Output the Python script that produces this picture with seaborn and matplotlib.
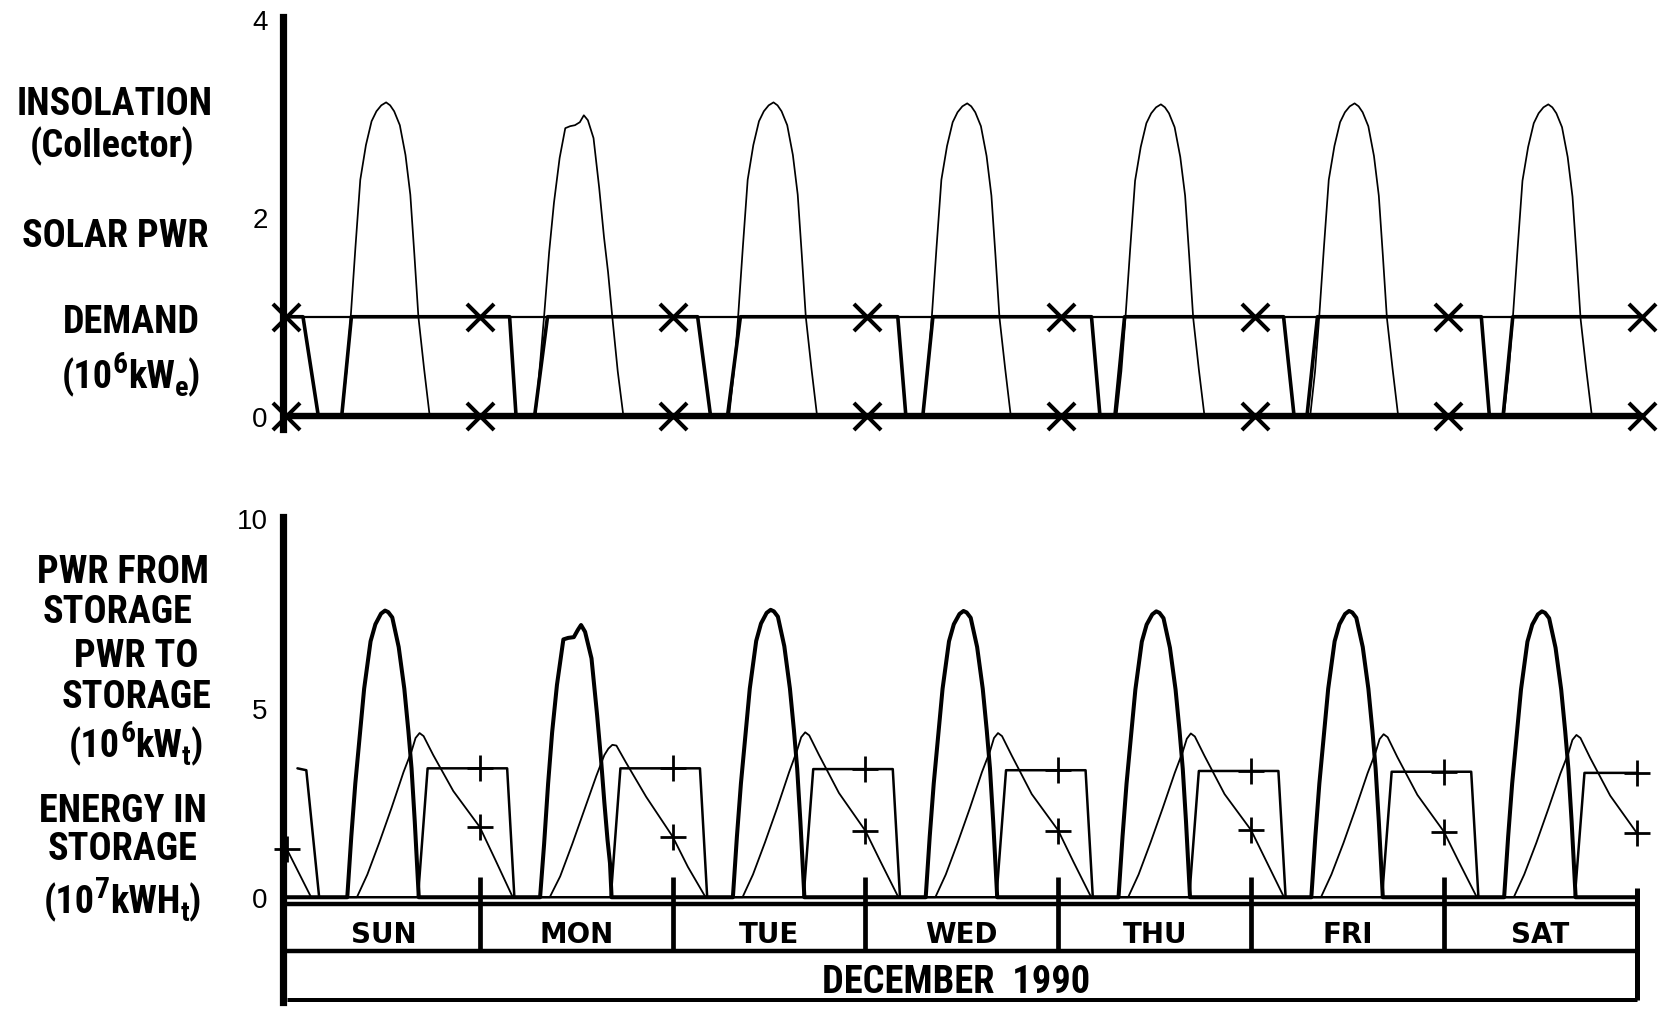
import matplotlib
matplotlib.use("Agg")
import matplotlib.pyplot as plt
import seaborn as sns
import pandas as pd
from matplotlib import font_manager as fm

# ---------------- calendar ----------------
DAY_NAMES = ["SUN", "MON", "TUE", "WED", "THU", "FRI", "SAT"]
MONTH_TITLE = "DECEMBER  1990"
DAY_EDGES_H = [0, 24, 48, 72, 96, 120, 144, 168]

# ---------------- upper panel (10^6 kWe) ----------------
# insolation on the collector, hour-of-day grid and one row per day
INSOL_HOURS = [6.9, 7.5, 8.0, 8.6, 9.2, 9.9, 10.6, 11.2, 11.8, 12.4,
               12.9, 13.4, 14.1, 14.8, 15.4, 15.9, 16.4, 17.1, 17.8]
INSOLATION_DAILY = [
    [0, 0.45, 0.98, 1.70, 2.38, 2.73, 2.97, 3.07, 3.13, 3.16, 3.13, 3.07, 2.93, 2.63, 2.23, 1.63, 1.00, 0.48, 0],
    [0, 0.55, 1.03, 1.65, 2.15, 2.60, 2.90, 2.92, 2.93, 2.96, 3.03, 2.98, 2.80, 2.30, 1.80, 1.45, 1.02, 0.45, 0],
    [0, 0.45, 0.98, 1.70, 2.38, 2.73, 2.97, 3.07, 3.13, 3.16, 3.13, 3.07, 2.93, 2.63, 2.23, 1.63, 1.00, 0.48, 0],
    [0, 0.45, 0.98, 1.70, 2.38, 2.72, 2.96, 3.06, 3.12, 3.15, 3.12, 3.06, 2.92, 2.62, 2.22, 1.62, 0.99, 0.48, 0],
    [0, 0.45, 0.98, 1.69, 2.37, 2.71, 2.95, 3.05, 3.11, 3.14, 3.11, 3.05, 2.91, 2.61, 2.22, 1.62, 0.99, 0.47, 0],
    [0, 0.45, 0.98, 1.70, 2.38, 2.72, 2.96, 3.06, 3.12, 3.15, 3.12, 3.06, 2.92, 2.62, 2.22, 1.62, 0.99, 0.48, 0],
    [0, 0.45, 0.98, 1.69, 2.37, 2.71, 2.95, 3.05, 3.11, 3.14, 3.11, 3.05, 2.91, 2.61, 2.21, 1.61, 0.98, 0.47, 0],
]

# solar plant output: full (1.0) except a night-time outage each day
SOLAR_FULL = 1.0
PWR_FALL_START_H = [2.1, 3.7, 3.0, 3.8, 3.8, 3.6, 4.1]
PWR_ZERO_FROM_H = [4.0, 4.5, 4.6, 4.8, 4.85, 4.9, 5.1]
PWR_ZERO_TO_H = [6.9, 6.8, 6.7, 6.9, 6.7, 6.5, 6.8]
PWR_FULL_AT_H = [8.1, 8.4, 8.3, 8.15, 7.9, 7.8, 8.0]

# demand and the zero reference, marked at each midnight
DEMAND_LEVEL = [1.0, 1.0, 1.0, 1.0, 1.0, 1.0, 1.0, 1.0]
ZERO_LEVEL = [0.0, 0.0, 0.0, 0.0, 0.0, 0.0, 0.0, 0.0]

# ---------------- lower panel ----------------
# power to storage (10^6 kWt)
TO_STORAGE_HOURS = [7.5, 8.0, 8.5, 9.0, 9.6, 10.4, 11.0, 11.7, 12.2,
                    12.6, 13.1, 13.9, 14.6, 15.1, 15.5, 15.9, 16.2, 16.4]
TO_STORAGE_DAILY = [
    [0, 1.6, 3.0, 4.15, 5.50, 6.75, 7.20, 7.48, 7.56, 7.52, 7.38, 6.60, 5.50, 4.40, 3.40, 2.0, 0.8, 0],
    [0, 1.4, 3.0, 4.35, 5.60, 6.80, 6.84, 6.86, 7.05, 7.18, 7.00, 6.30, 4.80, 3.60, 2.50, 1.5, 0.9, 0],
    [0, 1.6, 3.0, 4.15, 5.50, 6.76, 7.22, 7.50, 7.58, 7.54, 7.40, 6.62, 5.50, 4.40, 3.40, 2.0, 0.8, 0],
    [0, 1.6, 3.0, 4.15, 5.50, 6.75, 7.20, 7.47, 7.55, 7.51, 7.37, 6.60, 5.50, 4.40, 3.40, 2.0, 0.8, 0],
    [0, 1.6, 3.0, 4.14, 5.48, 6.74, 7.19, 7.46, 7.54, 7.50, 7.36, 6.58, 5.48, 4.38, 3.38, 2.0, 0.8, 0],
    [0, 1.6, 3.0, 4.15, 5.50, 6.75, 7.20, 7.47, 7.55, 7.51, 7.37, 6.60, 5.50, 4.40, 3.40, 2.0, 0.8, 0],
    [0, 1.6, 3.0, 4.14, 5.48, 6.74, 7.19, 7.46, 7.54, 7.50, 7.36, 6.58, 5.48, 4.38, 3.38, 2.0, 0.8, 0],
]

# power from storage (10^6 kWt): evening-to-early-morning plateau
FROM_STORAGE_START_H = [1.3, 2.4, 4.0]
FROM_STORAGE_START_V = [3.40, 3.35, 0.0]
FROM_STORAGE_RAMP_H = [16.3, 17.5, 27.4, 28.3]
FROM_STORAGE_LEVEL = [3.40, 3.40, 3.38, 3.35, 3.33, 3.31, 3.28]

# energy in storage (10^7 kWHt)
STORED_START_H = [0.0, 3.0]
STORED_START_V = [1.26, 0.0]
STORED_HOURS = [8.7, 10.0, 11.5, 13.0, 14.5, 15.5, 16.0, 16.5, 17.0, 18.2, 20.7, 24.0, 25.9, 28.1]
STORED_DAILY = [
    [0, 0.60, 1.45, 2.35, 3.30, 3.85, 4.20, 4.33, 4.25, 3.75, 2.80, 1.85, 1.00, 0],
    [0, 0.55, 1.40, 2.30, 3.20, 3.75, 3.92, 4.02, 4.00, 3.55, 2.65, 1.60, 0.80, 0],
    [0, 0.60, 1.45, 2.35, 3.30, 3.88, 4.22, 4.35, 4.27, 3.76, 2.75, 1.75, 0.93, 0],
    [0, 0.60, 1.45, 2.35, 3.30, 3.85, 4.20, 4.33, 4.25, 3.74, 2.72, 1.76, 0.93, 0],
    [0, 0.60, 1.45, 2.35, 3.28, 3.84, 4.18, 4.32, 4.24, 3.73, 2.72, 1.77, 0.95, 0],
    [0, 0.60, 1.43, 2.33, 3.27, 3.82, 4.17, 4.30, 4.22, 3.70, 2.70, 1.73, 0.92, 0],
    [0, 0.60, 1.43, 2.33, 3.26, 3.80, 4.15, 4.28, 4.20, 3.68, 2.68, 1.70],
]

# axis titles: pieces are (text, role) with role n = normal, sup, sub
TOP_LABELS = [
    ([("INSOLATION", "n")], 115, 115),
    ([("(Collector)", "n")], 112, 157),
    ([("SOLAR PWR", "n")], 115, 247),
    ([("DEMAND", "n")], 131.5, 333),
    ([("(10", "n"), ("6", "sup"), ("kW", "n"), ("e", "sub"), (")", "n")], 131, 388),
]
BOTTOM_LABELS = [
    ([("PWR FROM", "n")], 123, 583),
    ([("STORAGE", "n")], 118, 623),
    ([("PWR TO", "n")], 136.5, 667),
    ([("STORAGE", "n")], 136.5, 708),
    ([("(10", "n"), ("6", "sup"), ("kW", "n"), ("t", "sub"), (")", "n")], 136, 757),
    ([("ENERGY IN", "n")], 123, 822),
    ([("STORAGE", "n")], 122.5, 860),
    ([("(10", "n"), ("7", "sup"), ("kWH", "n"), ("t", "sub"), (")", "n")], 122.5, 913),
]


def weekly(hours, daily, lead_h=(0.0,), lead_v=(0.0,), tail=None):
    """Join per-day profiles into one week-long series."""
    xs, ys = list(lead_h), list(lead_v)
    for d, vals in enumerate(daily):
        for h, v in zip(hours, vals):
            xs.append(24 * d + h)
            ys.append(v)
    if tail is not None:
        xs.append(tail[0])
        ys.append(tail[1])
    return pd.DataFrame({"hour": xs, "value": ys})


def _is_bold(w):
    if isinstance(w, str):
        return w.lower() in ("bold", "demibold", "semibold", "heavy", "extra bold")
    return 600 <= int(w) <= 800


def pick_condensed():
    """Narrow bold sans for the axis titles; falls back to Roboto Bold."""
    prefs = ["Liberation Sans Narrow", "Noto Sans", "Noto Sans Condensed",
             "Roboto Condensed", "Open Sans Condensed", "DejaVu Sans"]
    found = []
    for f in fm.fontManager.ttflist:
        nm, st = f.name, str(f.stretch).lower()
        if f.style != "normal" or "Mono" in nm or "Serif" in nm:
            continue
        if "extra" in st or "ultra" in st or "semi" in st:
            continue
        if "Extra" in nm or "Semi" in nm or "Ultra" in nm:
            continue
        cond = "condensed" in st or "narrow" in st or "Narrow" in nm or "Condensed" in nm
        if cond and _is_bold(f.weight):
            rank = prefs.index(nm) if nm in prefs else len(prefs)
            found.append((rank, f.fname))
    if found:
        found.sort()
        return fm.FontProperties(fname=found[0][1])
    return fm.FontProperties(family="Roboto", weight="bold")


sns.set_style("white")
plt.rcParams["font.family"] = ["Liberation Sans", "DejaVu Sans"]
plt.rcParams.update({"text.color": "black", "axes.labelcolor": "black",
                     "xtick.color": "black", "ytick.color": "black"})
COND_FP = pick_condensed()

W, H = 1666, 1012
fig = plt.figure(figsize=(W / 100, H / 100), dpi=100)
fig.patch.set_facecolor("white")
renderer = fig.canvas.get_renderer()


def text_width(text, size):
    probe = fig.text(0, 0, text, fontproperties=COND_FP, fontsize=size)
    width = probe.get_window_extent(renderer).width
    probe.remove()
    return width


def fit_size(text, target_px, base=26.0, cap=30.0):
    return min(cap, base * target_px / text_width(text, base))


LABEL_SIZE = fit_size("INSOLATION", 196)
MONTH_SIZE = fit_size("DECEMBER", 173)


def draw_title(pieces, cx, baseline, size):
    """Left-side title line with hand-set super/subscripts (pixel coords)."""
    em = size * 100 / 72
    sizes = {"n": size, "sup": size * 0.78, "sub": size * 0.74}
    shift = {"n": 0.0, "sup": 0.40 * em, "sub": -0.22 * em}
    widths = [text_width(t, sizes[r]) for t, r in pieces]
    x = cx - sum(widths) / 2
    for (t, r), w in zip(pieces, widths):
        fig.text(x / W, 1 - (baseline - shift[r]) / H, t, ha="left",
                 va="baseline", fontproperties=COND_FP, fontsize=sizes[r])
        x += w


ax_top = fig.add_axes([0.16975, 0.5752, 0.8187, 0.4070])
ax_bot = fig.add_axes([0.16987, 0.0090, 0.81495, 0.4792])

line_kw = dict(color="black", estimator=None, sort=False, legend=False)

# ---- upper panel ----
insol = weekly(INSOL_HOURS, INSOLATION_DAILY, tail=(168, 0.0))
sns.lineplot(data=insol, x="hour", y="value", ax=ax_top, lw=1.25, **line_kw)

solar_h, solar_v = [0.0], [SOLAR_FULL]
for d in range(7):
    base = 24 * d
    solar_h += [base + PWR_FALL_START_H[d], base + PWR_ZERO_FROM_H[d],
                base + PWR_ZERO_TO_H[d], base + PWR_FULL_AT_H[d]]
    solar_v += [SOLAR_FULL, 0.0, 0.0, SOLAR_FULL]
solar_h.append(168)
solar_v.append(SOLAR_FULL)
sns.lineplot(x=solar_h, y=solar_v, ax=ax_top, lw=2.6, **line_kw)

sns.lineplot(x=DAY_EDGES_H, y=DEMAND_LEVEL, ax=ax_top, lw=1.6, **line_kw)
sns.lineplot(x=DAY_EDGES_H, y=ZERO_LEVEL, ax=ax_top, lw=4.6, **line_kw)
for lvl in (DEMAND_LEVEL, ZERO_LEVEL):
    sns.scatterplot(x=DAY_EDGES_H, y=lvl, ax=ax_top, marker="x", s=380,
                    linewidth=2.9, color="black", clip_on=False, zorder=6,
                    legend=False)

# ---- lower panel ----
to_store = weekly(TO_STORAGE_HOURS, TO_STORAGE_DAILY, tail=(168, 0.0))
sns.lineplot(data=to_store, x="hour", y="value", ax=ax_bot, lw=2.9, **line_kw)

from_h, from_v = list(FROM_STORAGE_START_H), list(FROM_STORAGE_START_V)
for d, lvl in enumerate(FROM_STORAGE_LEVEL):
    base = 24 * d
    for h, v in zip(FROM_STORAGE_RAMP_H, [0.0, lvl, lvl, 0.0]):
        if base + h <= 168:
            from_h.append(base + h)
            from_v.append(v)
        else:
            from_h.append(168)
            from_v.append(lvl)
            break
sns.lineplot(x=from_h, y=from_v, ax=ax_bot, lw=1.8, **line_kw)

stored = weekly(STORED_HOURS, STORED_DAILY, lead_h=STORED_START_H,
                lead_v=STORED_START_V)
sns.lineplot(data=stored, x="hour", y="value", ax=ax_bot, lw=1.3, **line_kw)

# midnight markers on the storage curves
stored_marks = stored[stored["hour"].isin(DAY_EDGES_H)]
sns.scatterplot(data=stored_marks, x="hour", y="value", ax=ax_bot, marker="+",
                s=330, linewidth=2.0, color="black", clip_on=False, zorder=6,
                legend=False)
sns.scatterplot(x=DAY_EDGES_H[1:], y=FROM_STORAGE_LEVEL, ax=ax_bot, marker="+",
                s=330, linewidth=2.0, color="black", clip_on=False, zorder=6,
                legend=False)

# ---- axes styling ----
ax_top.set_xlim(-0.4, 168.6)
ax_top.set_ylim(-0.13, 4.02)
ax_bot.set_xlim(-0.5, 168.5)
ax_bot.set_ylim(-2.76, 10.03)
for ax, ticks in ((ax_top, [0, 2, 4]), (ax_bot, [0, 5, 10])):
    ax.set_facecolor("white")
    for s in ("top", "right", "bottom"):
        ax.spines[s].set_visible(False)
    ax.spines["left"].set_linewidth(5.2)
    ax.spines["left"].set_color("black")
    ax.spines["left"].set_zorder(5)
    ax.set_xticks([])
    ax.set_yticks(ticks)
    ax.set_yticklabels([str(t) for t in ticks])
    ax.tick_params(axis="y", direction="in", length=13, width=1.6,
                   pad=11, labelsize=20, colors="black")
    ax.set_xlabel("")
    ax.set_ylabel("")

# ---- calendar strip under the lower panel ----
strip_top, strip_mid, strip_bot = -0.18, -1.42, -2.71
ax_bot.hlines([strip_top, strip_mid], 0, 168, color="black", lw=3.2, zorder=4)
ax_bot.hlines(strip_bot, 0, 168, color="black", lw=3.6, zorder=4)
ax_bot.vlines(DAY_EDGES_H[1:-1], strip_mid, 0.53, color="black", lw=3.4, zorder=4)
ax_bot.vlines(168, strip_bot, 0.25, color="black", lw=3.6, zorder=4)
for d, name in enumerate(DAY_NAMES):
    ax_bot.text(24 * d + 12, -1.19, name, ha="center", va="baseline",
                fontsize=20, fontweight="bold", family=["DejaVu Sans"])
ax_bot.text(83.3, -2.51, MONTH_TITLE, ha="center", va="baseline",
            fontproperties=COND_FP, fontsize=MONTH_SIZE)

# ---- axis titles on the left ----
for pieces, x, y in TOP_LABELS + BOTTOM_LABELS:
    draw_title(pieces, x, y, LABEL_SIZE)

fig.savefig("out.png", dpi=100, facecolor="white")
